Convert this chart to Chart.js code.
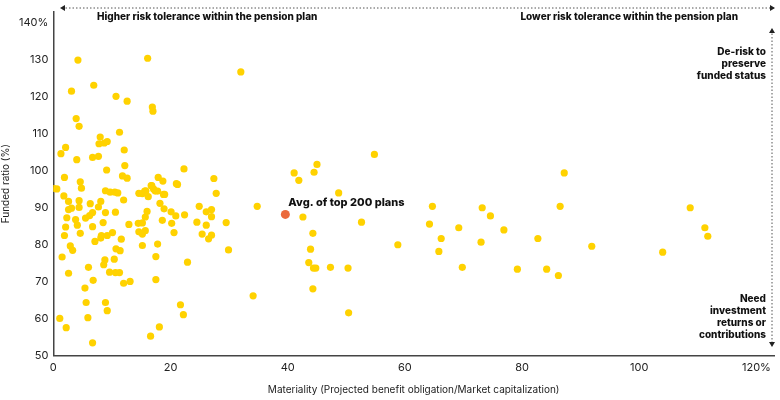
<!DOCTYPE html>
<html>
<head>
<meta charset="utf-8">
<script src="https://cdn.jsdelivr.net/npm/chart.js@4"></script>
<style>
  body { margin: 0; background: #fff; }
  #wrap { width: 780px; height: 400px; }
</style>
</head>
<body>
<div id="wrap"><canvas id="chart"></canvas></div>
<script>
// materiality (%) and funded ratio (%) of each plan
const materiality = [
  0.6, 1.8, 2.6, 4.4, 4.8, 3.1, 2.6, 4.4, 2.3, 3.8, 5.5, 6.2, 6.7, 6.3, 8.1, 7.7, 8.9, 9.7, 10.5, 11,
  2.1, 4.1, 4.6, 6.7, 1.9, 2.9, 3.3, 1.5, 2.6, 7.1, 8.1, 8.2, 9.2, 8.5, 10.1, 8.9, 10.6, 11.6, 10.7, 11.4,
  8.8, 10.4, 8.6, 9.6, 10.6, 11.3, 6, 5.4, 6.8, 12, 13.1, 12.9, 12, 14.5, 14.6, 15.2, 15.7, 15.2, 15.7, 16,
  15.2, 15.8, 16.2, 16.8, 17.1, 17.8, 18.2, 18.9, 19, 18.6, 17.8, 17.5, 15.2, 20.1, 20.9, 20.2, 20.6, 22.4, 21.2, 17.5,
  22.9, 21.7, 22.2, 18.1, 16.6, 6.7, 1.1, 2.2, 5.6, 5.9, 8.9, 9.2, 24.5, 24.9, 25.4, 26.1, 26.1, 27, 27, 27,
  26.5, 27.8, 29.5, 29.9, 34.8, 34.1, 42.6, 44.3, 43.9, 43.6, 44.4, 44.8, 47.3, 50.3, 44.3, 50.4, 52.6, 48.7, 58.8,
  4.2, 16.1, 3.1, 6.9, 10.7, 12.6, 32, 16.9, 17, 3.9, 4.4, 11.3, 8, 7.8, 8.7, 9.2, 2.1, 1.3, 6.7, 7.7,
  4, 12.1, 12.2, 9.1, 11.8, 12.6, 1.9, 4.6, 22.3, 17.9, 18.7, 21, 27.4, 41.1, 41.9, 44.5, 45, 54.8, 16.7, 15.6,
  14.6, 17.4, 18.8, 0.1, 64.7, 64.2, 66.2, 65.8, 69.2, 69.8, 73.2, 74.6, 73, 76.9, 79.2, 82.7, 84.2, 86.2, 86.5, 87.2,
  91.9, 104, 108.7, 111.2, 111.7
]
const fundedRatio = [
  95.1, 93.2, 91.7, 91.9, 95.3, 89.9, 89.5, 90.1, 87.3, 86.8, 87.2, 87.9, 88.7, 91.1, 91.7, 90.2, 94.6, 94.2, 94.2, 94,
  84.8, 85.3, 83.1, 84.9, 82.5, 79.7, 78.5, 76.7, 72.3, 80.9, 81.8, 82.5, 82.5, 86, 83.3, 88.7, 88.8, 81.5, 78.9, 78.4,
  75.9, 76.1, 74.6, 72.6, 72.5, 72.5, 73.9, 68.3, 70.4, 69.6, 70.1, 85.5, 92.1, 85.8, 83.5, 82.9, 83.8, 85.9, 87.5, 89,
  93.8, 94.6, 93, 96, 95.1, 94.5, 91.2, 89.7, 93.6, 86.6, 80.2, 76.8, 79.8, 88.9, 87.8, 85.8, 83.3, 88.1, 96.3, 70.6,
  75.3, 63.8, 61.1, 57.8, 55.3, 53.5, 60.1, 57.6, 64.4, 60.3, 64.4, 62.2, 86.1, 90.4, 82.9, 85.3, 88.9, 89.5, 87.6, 82.6,
  81.6, 93.9, 86, 78.6, 90.4, 66.2, 87.5, 83.1, 78.8, 75.2, 73.7, 73.7, 73.9, 73.7, 68.1, 61.6, 86.1, 94, 80,
  129.9, 130.4, 121.5, 123.1, 120.1, 118.8, 126.7, 117.2, 116.1, 114.1, 112, 110.4, 109.1, 107.3, 107.5, 107.9, 106.3, 104.6, 103.6, 103.9,
  103, 105.6, 101.4, 100.2, 98.6, 98, 98.2, 97, 100.5, 98.2, 97.2, 96.5, 97.9, 99.4, 97.4, 99.6, 101.7, 104.4, 96, 94.5,
  93.9, 94.5, 93.6, 95.2, 90.4, 85.6, 81.7, 78.2, 84.6, 73.9, 90, 87.8, 80.7, 84, 73.4, 81.7, 73.4, 71.7, 90.4, 99.4,
  79.6, 78, 90, 84.6, 82.3
]
const avgPoint = { x: 39.6, y: 88.2 }
const xTicks = [0, 20, 40, 60, 80, 100, 120]
const yTicks = [50, 60, 70, 80, 90, 100, 110, 120, 130, 140]

const ink = '#222'
const fontFam = 'Inter, "Liberation Sans", sans-serif'

function dottedArrow(ctx, x1, y1, x2, y2, heads) {
  ctx.save()
  ctx.strokeStyle = '#555'
  ctx.fillStyle = '#222'
  ctx.lineWidth = 1
  ctx.setLineDash([1.5, 2])
  ctx.beginPath()
  ctx.moveTo(x1, y1)
  ctx.lineTo(x2, y2)
  ctx.stroke()
  ctx.setLineDash([])
  heads.forEach(([x, y, dx, dy]) => {
    ctx.beginPath()
    ctx.moveTo(x, y)
    ctx.lineTo(x - dx * 5 + dy * 3, y - dy * 5 + dx * 3)
    ctx.lineTo(x - dx * 5 - dy * 3, y - dy * 5 - dx * 3)
    ctx.closePath()
    ctx.fill()
  })
  ctx.restore()
}

const notes = {
  id: 'notes',
  afterDraw(chart) {
    let ctx = chart.ctx
    let a = chart.chartArea
    let xs = chart.scales.x, ys = chart.scales.y
    dottedArrow(ctx, 62, 8, a.right, 8, [[60, 8, -1, 0], [a.right + 1, 8, 1, 0]])
    dottedArrow(ctx, a.right - 2, 30, a.right - 2, 345, [[a.right - 2, 28, 0, -1], [a.right - 2, 347, 0, 1]])
    ctx.save()
    ctx.fillStyle = '#111'
    ctx.font = '800 10px ' + fontFam
    ctx.textBaseline = 'middle'
    ctx.textAlign = 'left'
    ctx.fillText('Higher risk tolerance within the pension plan', 97, 17)
    ctx.textAlign = 'right'
    ctx.fillText('Lower risk tolerance within the pension plan', 738, 17)
    let rx = a.right - 8
    ;['De-risk to', 'preserve', 'funded status'].forEach((t, i) => ctx.fillText(t, rx, 52 + i * 12))
    ;['Need', 'investment', 'returns or', 'contributions'].forEach((t, i) => ctx.fillText(t, rx, 299 + i * 12))
    ctx.textAlign = 'left'
    ctx.font = '800 11px ' + fontFam
    ctx.fillText('Avg. of top 200 plans', xs.getPixelForValue(avgPoint.x) + 3, ys.getPixelForValue(avgPoint.y) - 12)
    ctx.restore()
  }
}

new Chart(document.getElementById('chart'), {
  type: 'scatter',
  data: {
    datasets: [
      {
        data: materiality.map((m, i) => ({ x: m, y: fundedRatio[i] })),
        backgroundColor: '#FFD200',
        borderWidth: 0,
        pointRadius: 3.6,
      },
      {
        data: [avgPoint],
        backgroundColor: '#EB6A3C',
        borderWidth: 0,
        pointRadius: 4.5,
      },
    ],
  },
  plugins: [notes],
  options: {
    responsive: true,
    maintainAspectRatio: false,
    animation: false,
    layout: { padding: { top: 5, right: 6, left: 0, bottom: 4 } },
    plugins: { legend: { display: false }, tooltip: { enabled: false } },
    scales: {
      x: {
        min: 0,
        max: 123,
        afterBuildTicks: (s) => { s.ticks = xTicks.map((v) => ({ value: v })) },
        grid: { display: false, drawTicks: false },
        border: { color: '#444', width: 1.5 },
        ticks: {
          color: ink, font: { size: 11, family: fontFam }, padding: 5, maxRotation: 0,
          callback: (v) => v === 120 ? '120%' : v,
        },
        title: { display: true, text: 'Materiality (Projected benefit obligation/Market capitalization)', color: ink, font: { size: 10, family: fontFam }, padding: { top: 5, bottom: 0 } },
      },
      y: {
        min: 50,
        max: 143,
        afterBuildTicks: (s) => { s.ticks = yTicks.map((v) => ({ value: v })) },
        grid: { display: false, drawTicks: false },
        border: { color: '#444', width: 1.5 },
        ticks: {
          color: ink, font: { size: 11, family: fontFam }, padding: 5,
          callback: (v) => v === 140 ? '140%' : v,
        },
        title: { display: true, text: 'Funded ratio (%)', color: ink, font: { size: 10, family: fontFam }, padding: { top: 0, bottom: 2 } },
      },
    },
  },
})
</script>
</body>
</html>
